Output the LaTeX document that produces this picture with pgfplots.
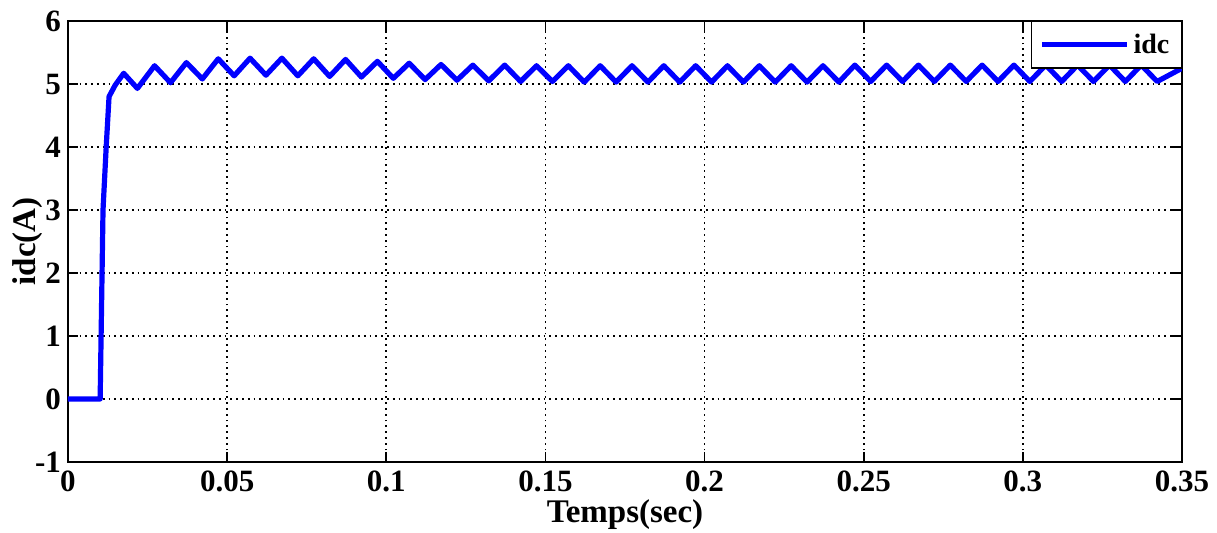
\documentclass[border=0pt]{standalone}
\usepackage{fontspec}
\setmainfont{Liberation Serif}
\usepackage{pgfplots}
\pgfplotsset{compat=1.18}

\begin{document}
\begin{tikzpicture}
\useasboundingbox (-34pt,-35.5pt) rectangle (574.5pt,231pt);
\begin{axis}[
  at={(0,0)}, anchor=south west,
  scale only axis,
  width=557pt, height=220.5pt,
  xmin=0, xmax=0.35, ymin=-1, ymax=6,
  xtick={0,0.05,...,0.35},
  ytick={-1,0,...,6},
  xticklabels={0,0.05,0.1,0.15,0.2,0.25,0.3,0.35},
  tick align=inside,
  tick pos=both,
  major tick length=5pt,
  grid=major,
  grid style={black, line width=0.9pt, dotted},
  axis line style={black, line width=0.8pt},
  every tick/.style={black, line width=0.8pt},
  /pgf/number format/assume math mode=true,
  tick label style={font=\fontsize{15.5}{17}\selectfont\bfseries},
  xticklabel style={yshift=-1pt},
  xlabel={Temps(sec)},
  ylabel={idc(A)},
  label style={font=\fontsize{16.5}{18}\selectfont\bfseries},
  xlabel style={yshift=3pt},
  ylabel style={at={(axis description cs:-0.0365,0.5)}, anchor=center},
  legend style={at={(rel axis cs:1,1)}, anchor=north east,
    draw=black, line width=0.6pt, inner sep=4pt,
    font=\fontsize{14}{16}\selectfont\bfseries},
  legend cell align=left,
  legend image post style={line width=2.5pt},
  legend image code/.code={\draw[#1] (0cm,0cm) -- (1.5cm,0cm);},
]
\addplot[blue, line width=2.6pt, line join=round] coordinates {
(0,0)(0.0101,0)(0.0104,1)(0.0107,2)(0.011,3)(0.012,4)(0.0129,4.8)(0.0148,4.98)
(0.0175,5.17)(0.0218,4.93)
(0.0272,5.29)(0.0322,5.02)
(0.0372,5.34)(0.0422,5.08)
(0.0472,5.40)(0.0522,5.13)
(0.0572,5.41)(0.0622,5.14)
(0.0672,5.41)(0.0722,5.13)
(0.0772,5.40)(0.0822,5.12)
(0.0872,5.39)(0.0922,5.11)
(0.0972,5.36)(0.1022,5.09)
(0.1072,5.33)(0.1122,5.07)
(0.1172,5.31)(0.1222,5.06)
(0.1272,5.30)(0.1322,5.05)
(0.1372,5.30)(0.1422,5.04)
(0.1472,5.29)(0.1522,5.04)
(0.1572,5.29)(0.1622,5.03)
(0.1672,5.29)(0.1722,5.03)
(0.1772,5.29)(0.1822,5.03)
(0.1872,5.29)(0.1922,5.03)
(0.1972,5.29)(0.2022,5.03)
(0.2072,5.29)(0.2122,5.03)
(0.2172,5.29)(0.2222,5.03)
(0.2272,5.29)(0.2322,5.03)
(0.2372,5.29)(0.2422,5.03)
(0.2472,5.30)(0.2522,5.04)
(0.2572,5.30)(0.2622,5.04)
(0.2672,5.30)(0.2722,5.04)
(0.2772,5.30)(0.2822,5.04)
(0.2872,5.30)(0.2922,5.04)
(0.2972,5.30)(0.3022,5.04)
(0.3072,5.30)(0.3122,5.04)
(0.3172,5.30)(0.3222,5.04)
(0.3272,5.30)(0.3322,5.04)
(0.3372,5.30)(0.3422,5.04)
(0.35,5.25)
};
\addlegendentry{idc}
\end{axis}
\end{tikzpicture}
\end{document}
